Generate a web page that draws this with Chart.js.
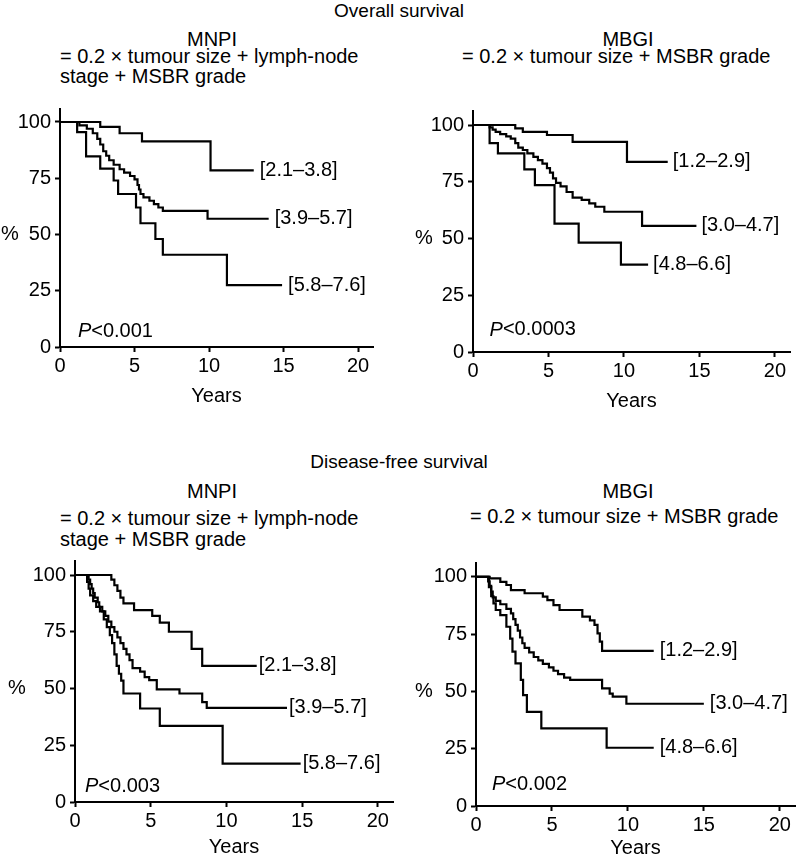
<!DOCTYPE html>
<html>
<head>
<meta charset="utf-8">
<script src="https://cdn.jsdelivr.net/npm/chart.js@4.4.1/dist/chart.umd.min.js"></script>
<style>
  body { margin: 0; width: 798px; height: 857px; position: relative; overflow: hidden; background: #fff; color: #000;
         font-family: "Liberation Sans", Arial, sans-serif; }
  .t { position: absolute; font-size: 20px; line-height: 1; white-space: nowrap; }
  .c { text-align: center; }
  canvas { position: absolute; }
</style>
</head>
<body>
<div class="t c" style="left:0;width:798px;top:1px;font-size:19px">Overall survival</div>
<div class="t c" style="left:112px;width:200px;top:29px">MNPI</div>
<div class="t c" style="left:528px;width:200px;top:29px">MBGI</div>
<div class="t" style="left:60px;top:46px">= 0.2 × tumour size + lymph-node</div>
<div class="t" style="left:60px;top:66px">stage + MSBR grade</div>
<div class="t" style="left:462px;top:46px">= 0.2 × tumour size + MSBR grade</div>

<div class="t c" style="left:0;width:798px;top:452px;font-size:19px">Disease-free survival</div>
<div class="t c" style="left:112px;width:200px;top:481px">MNPI</div>
<div class="t c" style="left:528px;width:200px;top:481px">MBGI</div>
<div class="t" style="left:60px;top:508px">= 0.2 × tumour size + lymph-node</div>
<div class="t" style="left:60px;top:529px">stage + MSBR grade</div>
<div class="t" style="left:470px;top:506px">= 0.2 × tumour size + MSBR grade</div>

<canvas id="osMnpi" width="400" height="318" style="left:0;top:90px"></canvas>
<canvas id="osMbgi" width="398" height="323" style="left:400px;top:90px"></canvas>
<canvas id="dfsMnpi" width="400" height="319" style="left:0;top:540px"></canvas>
<canvas id="dfsMbgi" width="398" height="320" style="left:400px;top:540px"></canvas>

<script>
// ---------- axes ----------
const yearTicks = [0, 5, 10, 15, 20];
const pctTicks = [0, 25, 50, 75, 100];

// ---------- overall survival, MNPI ----------
const osMnpiNames = ["[2.1–3.8]", "[3.9–5.7]", "[5.8–7.6]"];
const osMnpiYears = [
  [0, 2.7, 4.0, 5.5, 10.1, 13.0],
  [0, 1.3, 1.8, 2.2, 2.5, 2.7, 2.9, 3.1, 3.3, 3.6, 4.0, 4.3, 4.7, 5.0, 5.2, 5.3, 5.4, 5.6, 6.0, 6.3, 6.6, 6.9, 9.9, 14.0],
  [0, 1.15, 1.75, 2.7, 3.6, 3.9, 5.1, 5.4, 6.4, 6.9, 11.2, 14.9]
];
const osMnpiSurv = [
  [100, 97.8, 95, 91.4, 78.5, 78.5],
  [100, 98.5, 97, 95, 92.5, 90, 87, 85, 83, 81, 79, 77.5, 76, 74.5, 72, 70, 68, 66.5, 65, 63.5, 62, 60.5, 57, 57],
  [100, 95.5, 84.7, 79.3, 74, 68, 62, 55, 48, 41, 27.5, 27.5]
];

// ---------- overall survival, MBGI ----------
const osMbgiNames = ["[1.2–2.9]", "[3.0–4.7]", "[4.8–6.6]"];
const osMbgiYears = [
  [0, 2.8, 3.3, 4.9, 6.6, 10.2, 12.9],
  [0, 1.1, 1.3, 1.5, 1.8, 2.2, 2.5, 2.8, 3.0, 3.3, 3.6, 4.0, 4.3, 4.6, 4.9, 5.1, 5.3, 5.5, 5.8, 6.2, 6.6, 7.2, 7.7, 8.1, 8.7, 11.2, 14.8],
  [0, 1.1, 1.65, 3.4, 4.1, 5.4, 7.0, 9.8, 11.6]
];
const osMbgiSurv = [
  [100, 98.5, 97, 95.6, 92.6, 83.8, 83.8],
  [100, 99, 98, 97, 96, 95, 94, 92, 90, 89, 87.5, 86, 84.5, 83, 81, 79, 76.5, 74.5, 73, 70.5, 68, 67, 65.5, 64, 61.8, 55.6, 55.6],
  [100, 92, 87.5, 80.5, 73.5, 56.6, 48.2, 38.5, 38.5]
];

// ---------- disease-free survival, MNPI ----------
const dfsMnpiNames = ["[2.1–3.8]", "[3.9–5.7]", "[5.8–7.6]"];
const dfsMnpiYears = [
  [0, 2.4, 2.6, 2.8, 3.0, 3.2, 3.9, 5.1, 5.6, 6.2, 7.7, 8.4, 12.0],
  [0, 0.9, 1.0, 1.1, 1.2, 1.3, 1.5, 1.6, 1.8, 2.0, 2.2, 2.4, 2.6, 2.8, 3.0, 3.2, 3.4, 3.6, 3.8, 4.3, 4.6, 4.9, 5.4, 6.9, 8.4, 8.7, 14.0],
  [0, 0.8, 0.9, 1.0, 1.2, 1.4, 1.65, 1.9, 2.1, 2.3, 2.45, 2.6, 2.75, 2.9, 3.05, 3.2, 4.3, 5.6, 9.75, 14.9]
];
const dfsMnpiSurv = [
  [100, 98, 95.5, 93, 90, 87.5, 84.5, 82, 79, 75, 67.5, 60, 60],
  [100, 98, 96, 94, 92, 90, 88, 86, 84, 82, 79.5, 77, 75, 72.5, 70, 67.5, 65, 62.5, 59, 57.4, 55, 53.7, 49.6, 47.8, 44, 41.5, 41.5],
  [100, 97, 94, 91, 88.5, 86, 84, 80.5, 77, 73.5, 70, 65, 60, 56.5, 53.5, 47.8, 41.2, 33.5, 16.9, 16.9]
];

// ---------- disease-free survival, MBGI ----------
const dfsMbgiNames = ["[1.2–2.9]", "[3.0–4.7]", "[4.8–6.6]"];
const dfsMbgiYears = [
  [0, 0.9, 1.6, 2.0, 2.3, 3.2, 4.4, 4.7, 5.1, 5.5, 7.0, 7.5, 7.8, 8.0, 8.15, 8.3, 11.7],
  [0, 0.8, 0.9, 1.0, 1.1, 1.3, 1.6, 2.0, 2.3, 2.45, 2.6, 2.75, 2.9, 3.05, 3.2, 3.5, 3.8, 4.1, 4.4, 4.8, 5.1, 5.4, 5.8, 6.2, 8.3, 8.8, 9.0, 9.9, 15.0],
  [0, 0.85, 1.0, 1.15, 1.3, 1.6, 2.0, 2.25, 2.4, 2.6, 2.95, 3.1, 3.35, 4.3, 8.6, 11.7]
];
const dfsMbgiSurv = [
  [100, 99.3, 97.8, 96.4, 94.2, 92.8, 91.3, 89.8, 87.6, 85.5, 82.6, 81, 79, 75.3, 71.7, 67.7, 67.7],
  [100, 98, 96, 93.5, 91, 89.5, 88, 86, 84, 81.5, 79, 76.5, 73.5, 71, 69, 67, 65, 63.5, 62, 60.5, 59, 57.5, 56, 55, 51.3, 49, 47.7, 44.6, 44.6],
  [100, 95.5, 91.5, 88.4, 85.5, 83.3, 78.2, 73, 67.3, 62.2, 55, 48.4, 41.1, 33.9, 25.4, 25.4]
];

const FONT = '"Liberation Sans", Arial, sans-serif';

// curve names at line ends, P value and the "%" sign
const kmText = {
  id: "kmText",
  afterDatasetsDraw(chart, args, opts) {
    const { ctx, scales: { x, y } } = chart;
    ctx.save();
    ctx.fillStyle = "#000";
    ctx.textBaseline = "middle";
    ctx.font = "20px " + FONT;
    chart.data.datasets.forEach(ds => {
      const last = ds.data[ds.data.length - 1];
      ctx.fillText(ds.label, x.getPixelForValue(last.x) + opts.gap, y.getPixelForValue(last.y));
    });

    let px = x.getPixelForValue(opts.pAt[0]);
    const py = y.getPixelForValue(opts.pAt[1]);
    ctx.font = "italic 20px " + FONT;
    ctx.fillText("P", px, py);
    px += ctx.measureText("P").width;
    ctx.font = "20px " + FONT;
    ctx.fillText(opts.p, px, py);

    ctx.textAlign = "center";
    ctx.fillText("%", x.left - opts.pctOffset, y.getPixelForValue(50));
    ctx.restore();
  }
};

function kmChart(id, names, years, surv, layout, text) {
  const datasets = names.map((name, i) => ({
    label: name,
    data: years[i].map((t, j) => ({ x: t, y: surv[i][j] })),
    stepped: true,
    borderColor: "#000",
    borderWidth: 2.2,
    pointRadius: 0,
    fill: false
  }));

  return new Chart(document.getElementById(id), {
    type: "line",
    data: { datasets },
    plugins: [kmText],
    options: {
      responsive: false,
      animation: false,
      layout: { padding: { top: layout.top, right: layout.right, left: 0, bottom: 0 } },
      plugins: {
        legend: { display: false },
        tooltip: { enabled: false },
        kmText: text
      },
      scales: {
        x: {
          type: "linear",
          min: 0,
          max: 21,
          afterBuildTicks: s => { s.ticks = yearTicks.map(v => ({ value: v })); },
          afterFit: s => { s.height = layout.xh; },
          ticks: { color: "#000", font: { size: 20, family: FONT }, padding: 2, maxRotation: 0 },
          grid: { drawOnChartArea: false, tickLength: 5, tickWidth: 2, tickColor: "#000" },
          border: { color: "#000", width: 2 },
          title: { display: true, text: "Years", color: "#000", font: { size: 20, family: FONT }, padding: 0 }
        },
        y: {
          min: 0,
          max: 106,
          afterBuildTicks: s => { s.ticks = pctTicks.map(v => ({ value: v })); },
          afterFit: s => { s.width = layout.yw; },
          ticks: { color: "#000", font: { size: 20, family: FONT }, padding: 4 },
          grid: { drawOnChartArea: false, tickLength: 5, tickWidth: 2, tickColor: "#000" },
          border: { color: "#000", width: 2 }
        }
      }
    }
  });
}

kmChart("osMnpi", osMnpiNames, osMnpiYears, osMnpiSurv,
  { top: 18.5, right: 27, yw: 60, xh: 61 },
  { gap: 6, p: "<0.001", pAt: [1.2, 7], pctOffset: 50 });

kmChart("osMbgi", osMbgiNames, osMbgiYears, osMbgiSurv,
  { top: 21.4, right: 8, yw: 73, xh: 61 },
  { gap: 5, p: "<0.0003", pAt: [1.1, 9.7], pctOffset: 49 });

kmChart("dfsMnpi", dfsMnpiNames, dfsMnpiYears, dfsMnpiSurv,
  { top: 21.4, right: 7, yw: 75, xh: 57 },
  { gap: 2, p: "<0.003", pAt: [0.66, 7], pctOffset: 58 });

kmChart("dfsMbgi", dfsMbgiNames, dfsMbgiYears, dfsMbgiSurv,
  { top: 23, right: 3, yw: 76, xh: 54 },
  { gap: 6, p: "<0.002", pAt: [1.05, 9.2], pctOffset: 52 });
</script>
</body>
</html>
